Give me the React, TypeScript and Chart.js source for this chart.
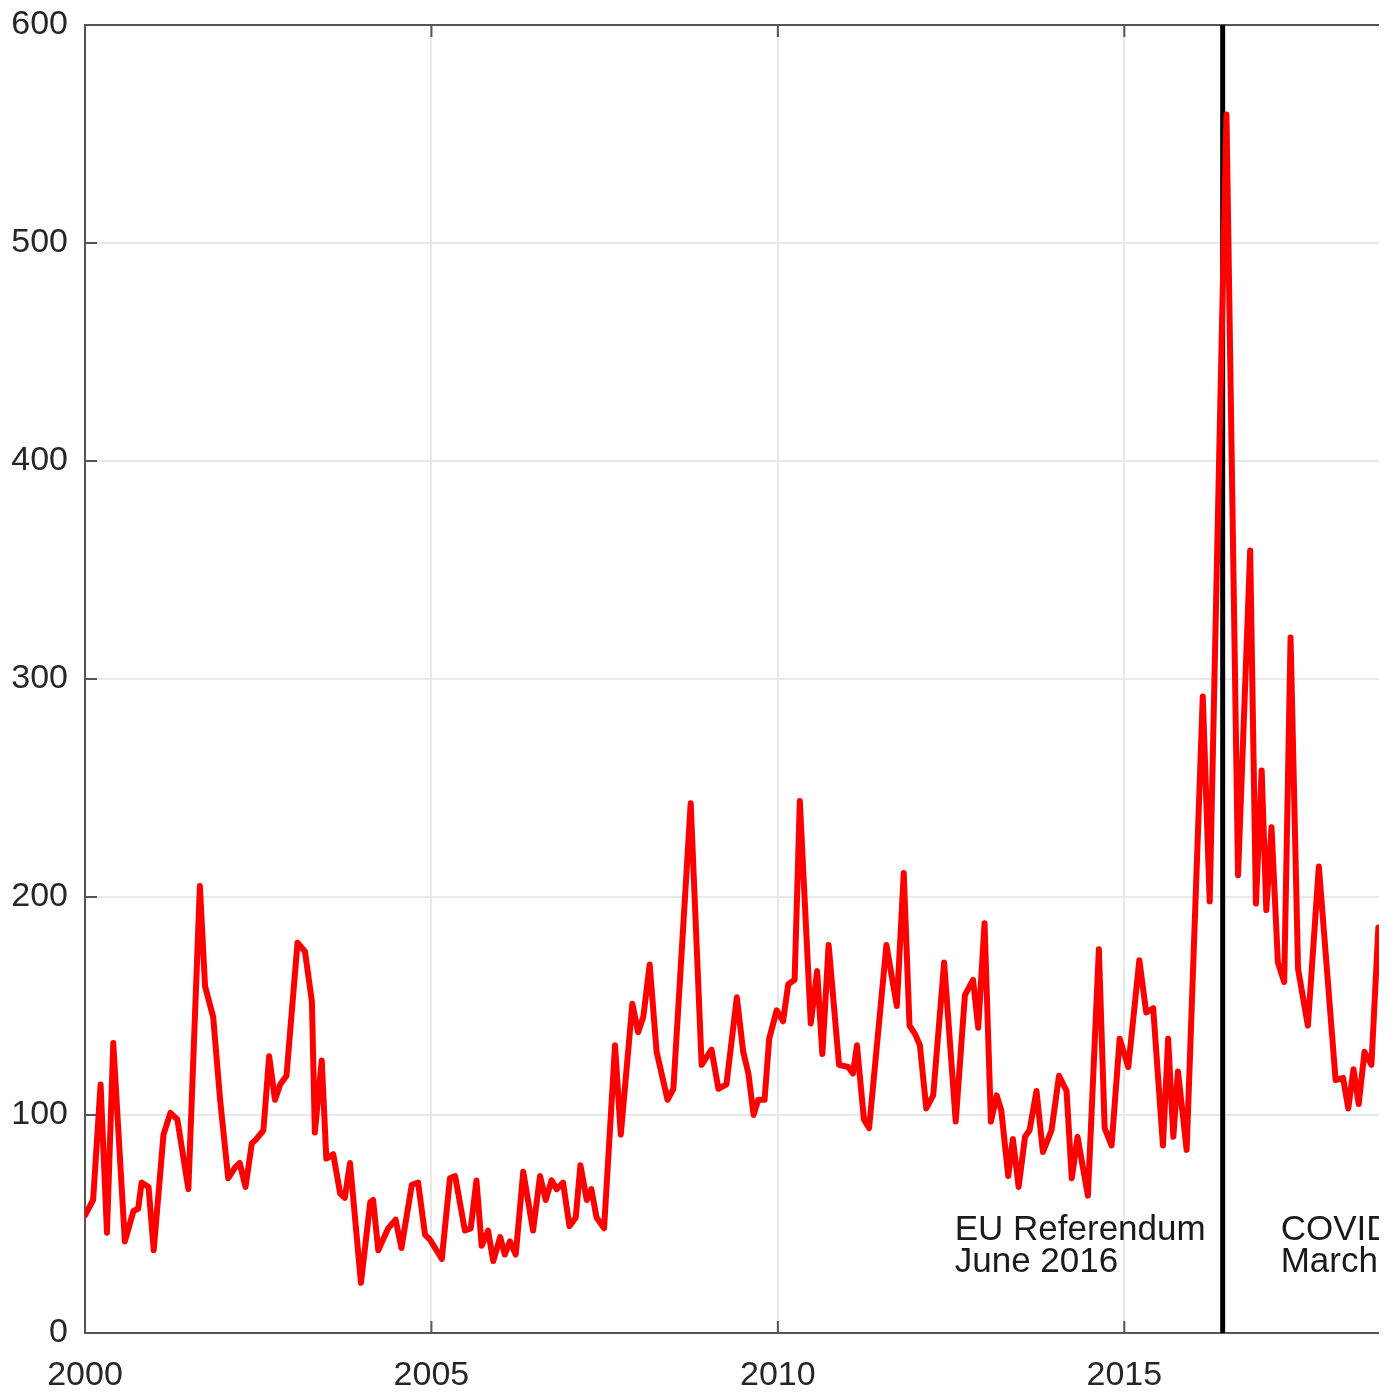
import React, { useEffect, useRef } from "react";
import { Chart, registerables } from "chart.js";

Chart.register(...registerables);

// Decimal-year dates of the monthly series' turning points
const dates = [
  2000.0, 2000.117, 2000.225, 2000.317, 2000.408, 2000.575, 2000.7, 2000.767, 2000.817, 2000.917,
  2000.992, 2001.133, 2001.233, 2001.333, 2001.492, 2001.658, 2001.733, 2001.85, 2001.95, 2002.067,
  2002.167, 2002.233, 2002.317, 2002.408, 2002.475, 2002.575, 2002.658, 2002.742, 2002.817, 2002.908,
  2003.067, 2003.175, 2003.275, 2003.317, 2003.417, 2003.483, 2003.583, 2003.683, 2003.75, 2003.825,
  2003.983, 2004.117, 2004.158, 2004.233, 2004.375, 2004.483, 2004.567, 2004.717, 2004.808, 2004.908,
  2004.975, 2005.15, 2005.267, 2005.342, 2005.483, 2005.567, 2005.65, 2005.725, 2005.817, 2005.892,
  2005.992, 2006.058, 2006.133, 2006.217, 2006.325, 2006.467, 2006.567, 2006.65, 2006.733, 2006.808,
  2006.9, 2006.992, 2007.083, 2007.15, 2007.242, 2007.308, 2007.383, 2007.492, 2007.65, 2007.733,
  2007.9, 2007.983, 2008.058, 2008.15, 2008.25, 2008.408, 2008.492, 2008.742, 2008.9, 2009.042,
  2009.142, 2009.258, 2009.408, 2009.5, 2009.575, 2009.65, 2009.717, 2009.808, 2009.875, 2009.983,
  2010.075, 2010.15, 2010.242, 2010.317, 2010.475, 2010.567, 2010.642, 2010.733, 2010.883, 2011.017,
  2011.083, 2011.142, 2011.242, 2011.317, 2011.567, 2011.717, 2011.817, 2011.9, 2011.983, 2012.05,
  2012.142, 2012.242, 2012.4, 2012.567, 2012.7, 2012.817, 2012.892, 2012.983, 2013.075, 2013.158,
  2013.225, 2013.325, 2013.392, 2013.475, 2013.567, 2013.633, 2013.733, 2013.825, 2013.95, 2014.058,
  2014.167, 2014.242, 2014.325, 2014.475, 2014.633, 2014.717, 2014.817, 2014.933, 2015.058, 2015.217,
  2015.317, 2015.417, 2015.558, 2015.633, 2015.708, 2015.775, 2015.9, 2016.133, 2016.233, 2016.475,
  2016.642, 2016.817, 2016.9, 2016.983, 2017.05, 2017.125, 2017.217, 2017.308, 2017.4, 2017.508,
  2017.65, 2017.808, 2018.05, 2018.158, 2018.233, 2018.308, 2018.383, 2018.467, 2018.567, 2018.667,
];

const counts = [
  54, 61, 114, 46, 133, 42, 56, 57, 69, 67,
  38, 91, 101, 98, 66, 205, 159, 145, 107, 71,
  76, 78, 67, 87, 89, 93, 127, 107, 114, 118,
  179, 175, 152, 92, 125, 80, 82, 64, 62, 78,
  23, 60, 61, 38, 48, 52, 39, 68, 69, 45,
  43, 34, 71, 72, 47, 48, 70, 40, 47, 33,
  44, 36, 42, 36, 74, 47, 72, 61, 70, 66,
  69, 49, 53, 77, 61, 66, 53, 48, 132, 91,
  151, 138, 145, 169, 129, 107, 112, 243, 123, 130,
  112, 114, 154, 129, 119, 100, 107, 107, 135, 148,
  143, 160, 162, 244, 142, 166, 128, 178, 123, 122,
  119, 132, 98, 94, 178, 150, 211, 141, 137, 132,
  103, 109, 170, 97, 155, 162, 140, 188, 97, 109,
  102, 72, 89, 67, 90, 93, 111, 83, 93, 118,
  111, 71, 90, 63, 176, 94, 86, 135, 122, 171,
  147, 149, 86, 135, 90, 120, 84, 292, 198, 559,
  210, 359, 197, 258, 194, 232, 170, 161, 319, 167,
  141, 214, 116, 117, 103, 121, 105, 129, 123, 186,
];

const xTickValues = [2000, 2005, 2010, 2015, 2020];
const yTickValues = [0, 100, 200, 300, 400, 500, 600];

const eventDates = [2016.42, 2020.17];
const eventLabels = [
  ["EU Referendum", "June 2016"],
  ["COVID-19", "March 2020"],
];

const FONT = '"Liberation Sans", Arial, Helvetica, sans-serif';
const AXIS_COLOR = "#555555";
const GRID_COLOR = "#e8e8e8";
const TEXT_COLOR = "#262626";

export default function App() {
  const ref = useRef<HTMLCanvasElement>(null);

  useEffect(() => {
    const canvas = ref.current!;
    const decor = {
      id: "decor",
      beforeDatasetsDraw(chart: any) {
        const { ctx, chartArea: a, scales } = chart;
        const xs = scales.x;
        const ys = scales.y;
        ctx.save();
        // box (top + right)
        ctx.strokeStyle = AXIS_COLOR;
        ctx.lineWidth = 2;
        ctx.beginPath();
        ctx.moveTo(a.left, a.top);
        ctx.lineTo(a.right, a.top);
        ctx.lineTo(a.right, a.bottom);
        ctx.stroke();
        // inward ticks
        const tl = 12;
        ctx.beginPath();
        yTickValues.forEach((v) => {
          const py = ys.getPixelForValue(v);
          ctx.moveTo(a.left, py);
          ctx.lineTo(a.left + tl, py);
          ctx.moveTo(a.right, py);
          ctx.lineTo(a.right - tl, py);
        });
        xTickValues.forEach((v) => {
          const px = xs.getPixelForValue(v);
          ctx.moveTo(px, a.bottom);
          ctx.lineTo(px, a.bottom - tl);
          ctx.moveTo(px, a.top);
          ctx.lineTo(px, a.top + tl);
        });
        ctx.stroke();
        // event lines and labels
        ctx.font = `35px ${FONT}`;
        eventDates.forEach((d, i) => {
          const px = xs.getPixelForValue(d);
          ctx.strokeStyle = "#000000";
          ctx.lineWidth = 5;
          ctx.beginPath();
          ctx.moveTo(px, a.top);
          ctx.lineTo(px, a.bottom);
          ctx.stroke();
          const lines = eventLabels[i];
          const w = Math.max(...lines.map((l) => ctx.measureText(l).width));
          const left = px - 17 - w;
          ctx.fillStyle = "#1a1a1a";
          ctx.textAlign = "left";
          ctx.textBaseline = "alphabetic";
          ctx.fillText(lines[0], left, a.bottom - 93);
          ctx.fillText(lines[1], left, a.bottom - 61);
        });
        ctx.restore();
      },
    };

    const chart = new Chart(canvas, {
      type: "line",
      data: {
        datasets: [
          {
            data: dates.map((d, i) => ({ x: d, y: counts[i] })),
            borderColor: "#ff0000",
            borderWidth: 6,
            pointRadius: 0,
            tension: 0,
            borderJoinStyle: "round",
            borderCapStyle: "round",
          },
        ],
      },
      options: {
        animation: false,
        responsive: false,
        maintainAspectRatio: false,
        layout: { padding: { top: 16, left: 0, right: 20, bottom: 0 } },
        plugins: { legend: { display: false }, tooltip: { enabled: false } },
        scales: {
          x: {
            type: "linear",
            min: 2000,
            max: 2021,
            afterBuildTicks: (s: any) => {
              s.ticks = xTickValues.map((v) => ({ value: v }));
            },
            afterFit: (s: any) => {
              s.height = 60;
            },
            ticks: {
              font: { family: FONT, size: 34, lineHeight: 1 },
              color: TEXT_COLOR,
              padding: 26,
              maxRotation: 0,
              autoSkip: false,
              callback: (v: any) => String(v),
            },
            grid: { color: GRID_COLOR, lineWidth: 2, drawTicks: false },
            border: { display: true, color: AXIS_COLOR, width: 2 },
          },
          y: {
            type: "linear",
            min: 0,
            max: 600,
            afterBuildTicks: (s: any) => {
              s.ticks = yTickValues.map((v) => ({ value: v }));
            },
            afterFit: (s: any) => {
              s.width = 77;
            },
            ticks: {
              font: { family: FONT, size: 34, lineHeight: 1 },
              color: TEXT_COLOR,
              padding: 17,
              callback: (v: any) => String(v),
            },
            grid: { color: GRID_COLOR, lineWidth: 2, drawTicks: false },
            border: { display: true, color: AXIS_COLOR, width: 2 },
          },
        },
      },
      plugins: [decor],
    });
    return () => chart.destroy();
  }, []);

  return (
    <div
      style={{
        position: "fixed",
        left: 0,
        top: 0,
        width: 1379,
        height: 1392,
        overflow: "hidden",
        background: "#fff",
      }}
    >
      <canvas
        ref={ref}
        width={1552}
        height={1402}
        style={{ position: "absolute", left: 8, top: -9, display: "block", width: 1552, height: 1402 }}
      />
    </div>
  );
}
